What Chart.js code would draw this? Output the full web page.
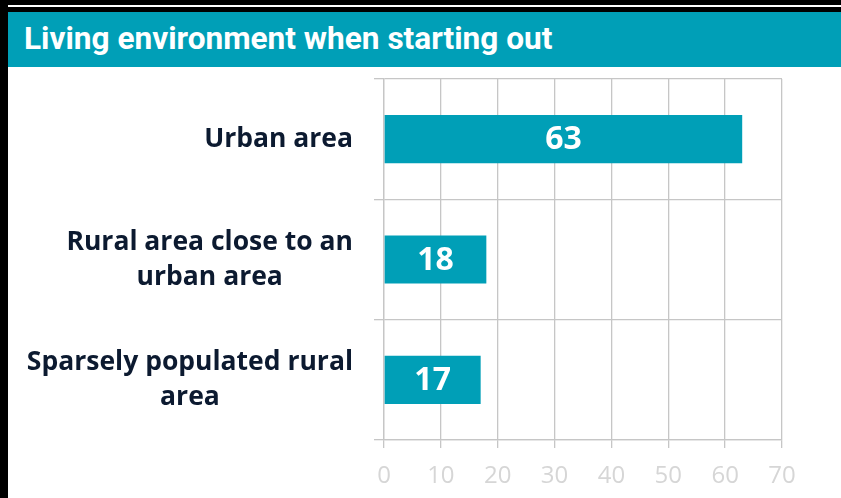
<!DOCTYPE html>
<html>
<head>
<meta charset="utf-8">
<script src="https://cdn.jsdelivr.net/npm/chart.js@4/dist/chart.umd.min.js"></script>
<style>
  html, body { margin: 0; padding: 0; background: #fff; }
  .frame { position: relative; width: 841px; height: 498px; overflow: hidden; background: #fff; }
  .top-bar { position: absolute; left: 0; top: 0; width: 841px; height: 12px; background: #000; }
  .top-line { position: absolute; left: 0; top: 5px; width: 841px; height: 2px; background: #fff; }
  .left-bar { position: absolute; left: 0; top: 0; width: 8px; height: 498px; background: #000; }
  .header {
    position: absolute; left: 8px; top: 12px; width: 833px; height: 55px;
    background: #009fb7; color: #fff;
    font-family: Roboto, "Liberation Sans", sans-serif; font-weight: 700; font-size: 31.6px;
    line-height: 53px; padding-left: 16px; box-sizing: border-box; white-space: nowrap;
  }
  .chart-box { position: absolute; left: 8px; top: 67px; width: 833px; height: 431px; }
</style>
</head>
<body>
<div class="frame">
  <div class="top-bar"></div>
  <div class="top-line"></div>
  <div class="left-bar"></div>
  <div class="header">Living environment when starting out</div>
  <div class="chart-box"><canvas id="envChart" width="833" height="431"></canvas></div>
</div>
<script>
const categories = [
    ['Urban area'],
    ['Rural area close to an', 'urban area'],
    ['Sparsely populated rural', 'area']
];
const shares = [63, 18, 17];
const xTicks = [0, 10, 20, 30, 40, 50, 60, 70];

const teal = '#009fb7';
const navy = '#0c1a30';
const gridColor = '#c6c6c6';

// category labels: block right aligned at the axis, lines centred inside the block
const categoryLabels = {
    id: 'categoryLabels',
    afterDraw(chart) {
        const ctx = chart.ctx;
        const yScale = chart.scales.y;
        const lineHeight = 35;
        const rightEdge = 345;
        ctx.save();
        ctx.font = '700 26.5px "Open Sans", sans-serif';
        ctx.fillStyle = navy;
        ctx.textAlign = 'center';
        ctx.textBaseline = 'middle';
        categories.forEach((lines, i) => {
            const y = yScale.getPixelForTick(i);
            const blockWidth = Math.max(...lines.map(l => ctx.measureText(l).width));
            const cx = rightEdge - blockWidth / 2;
            const startY = y - (lines.length - 1) * lineHeight / 2;
            lines.forEach((line, j) => ctx.fillText(line, cx, startY + j * lineHeight));
        });
        ctx.restore();
    }
};

// value in the middle of each bar
const barValues = {
    id: 'barValues',
    afterDatasetsDraw(chart) {
        const ctx = chart.ctx;
        const meta = chart.getDatasetMeta(0);
        ctx.save();
        ctx.font = '700 32px "Open Sans", sans-serif';
        ctx.fillStyle = '#ffffff';
        ctx.textAlign = 'center';
        ctx.textBaseline = 'middle';
        meta.data.forEach((bar, i) => {
            const x = (bar.x + bar.base) / 2;
            ctx.fillText(String(shares[i]), x, bar.y + 1);
        });
        ctx.restore();
    }
};

const ctx = document.getElementById('envChart').getContext('2d');
new Chart(ctx, {
    type: 'bar',
    data: {
        labels: categories,
        datasets: [{
            data: shares,
            backgroundColor: teal,
            borderWidth: 0,
            barPercentage: 0.4,
            categoryPercentage: 1
        }]
    },
    options: {
        indexAxis: 'y',
        responsive: false,
        animation: false,
        layout: { padding: { top: 12, right: 59, left: 0, bottom: 0 } },
        plugins: {
            legend: { display: false },
            tooltip: { enabled: false }
        },
        scales: {
            x: {
                min: 0,
                max: 70,
                afterBuildTicks: scale => { scale.ticks = xTicks.map(v => ({ value: v })); },
                afterFit: scale => { scale.height = 58; },
                grid: { color: gridColor, lineWidth: 1.3, tickLength: 8 },
                border: { color: gridColor, width: 1.3 },
                ticks: {
                    color: '#d6d6d6',
                    padding: 14,
                    font: { family: '"Open Sans", sans-serif', size: 24, weight: 400 }
                }
            },
            y: {
                afterFit: scale => { scale.width = 376; },
                grid: { color: gridColor, lineWidth: 1.3, tickLength: 10, offset: true },
                border: { color: gridColor, width: 1.3 },
                ticks: { display: false }
            }
        }
    },
    plugins: [categoryLabels, barValues]
});
</script>
</body>
</html>
